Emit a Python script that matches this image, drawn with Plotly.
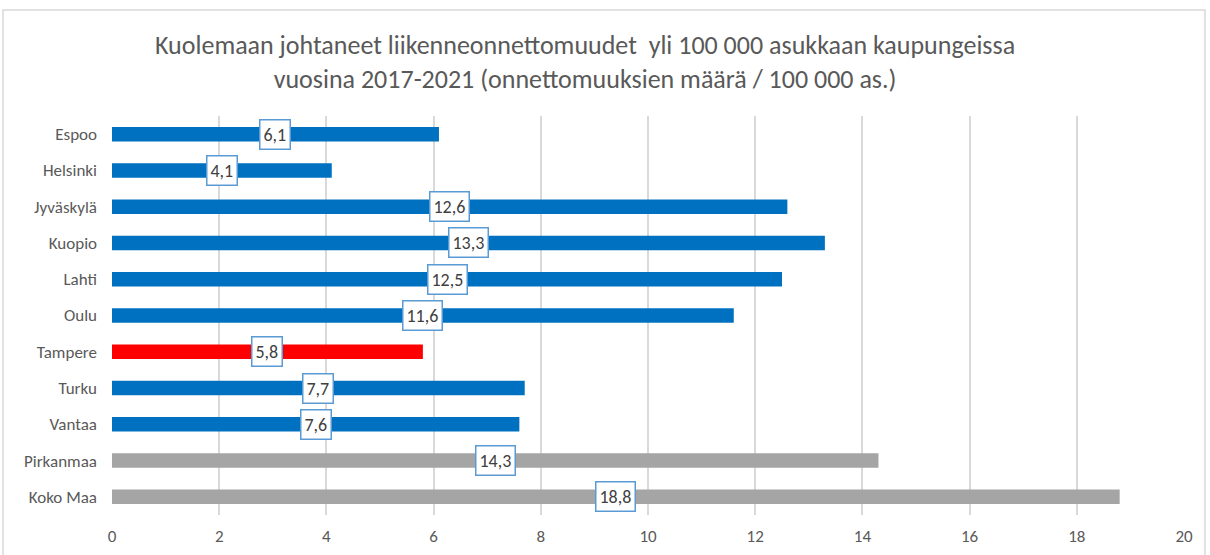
import plotly.graph_objects as go

# Fatal road accidents per 100 000 inhabitants, 2017-2021
categories = ["Espoo", "Helsinki", "Jyväskylä", "Kuopio", "Lahti", "Oulu",
              "Tampere", "Turku", "Vantaa", "Pirkanmaa", "Koko Maa"]
values = [6.1, 4.1, 12.6, 13.3, 12.5, 11.6, 5.8, 7.7, 7.6, 14.3, 18.8]
value_labels = ["6,1", "4,1", "12,6", "13,3", "12,5", "11,6", "5,8", "7,7", "7,6", "14,3", "18,8"]
bar_colors = ["#0070C0"] * 6 + ["#FF0000"] + ["#0070C0"] * 2 + ["#A5A5A5"] * 2
x_ticks = [0, 2, 4, 6, 8, 10, 12, 14, 16, 18, 20]

FONT = "Carlito, Calibri, Lato, sans-serif"
W, H = 1210, 555
ML, MR, MT, MB = 112, 26, 116, 40
pw, ph = W - ML - MR, H - MT - MB

fig = go.Figure(go.Bar(
    x=values, y=categories, orientation="h",
    marker=dict(color=bar_colors, line=dict(width=0)),
    hoverinfo="skip",
))

# value labels in boxes at the middle of each bar
for cat, v, lab in zip(categories, values, value_labels):
    fig.add_annotation(
        x=v / 2, y=cat, text=lab, showarrow=False,
        font=dict(family=FONT, size=18, color="#404040"),
        bgcolor="white", bordercolor="#5B9BD5", borderwidth=1.5, borderpad=3,
    )

# chart title
fig.add_annotation(
    xref="paper", yref="paper",
    x=(585 - ML) / pw, y=(H - MB - 62) / ph,
    text="Kuolemaan johtaneet liikenneonnettomuudet  yli 100 000 asukkaan kaupungeissa<br>"
         "vuosina 2017-2021 (onnettomuuksien määrä / 100 000 as.)",
    showarrow=False, align="center", yanchor="middle",
    font=dict(family=FONT, size=26, color="#595959"),
)

# outer chart frame
fig.add_shape(
    type="rect", xref="paper", yref="paper", layer="below",
    x0=(3 - ML) / pw, x1=(1205 - ML) / pw,
    y0=(H - MB - 570) / ph, y1=(H - MB - 10) / ph,
    line=dict(color="#D9D9D9", width=1.5), fillcolor="rgba(0,0,0,0)",
)

fig.update_layout(
    width=W, height=H,
    margin=dict(l=ML, r=MR, t=MT, b=MB, autoexpand=False),
    paper_bgcolor="white", plot_bgcolor="white",
    bargap=0.6, showlegend=False,
    font=dict(family=FONT, color="#595959"),
    xaxis=dict(
        range=[0, 20], tickvals=x_ticks, ticktext=[str(t) for t in x_ticks],
        showgrid=True, gridcolor="#D9D9D9", gridwidth=1.5,
        zeroline=False, showline=False, ticks="", automargin=False,
        tickfont=dict(family=FONT, size=17, color="#595959"),
        ticklabelstandoff=9, fixedrange=True,
    ),
    yaxis=dict(
        autorange="reversed", showgrid=False, zeroline=False,
        showline=False, ticks="", automargin=False,
        tickfont=dict(family=FONT, size=17, color="#595959"),
        ticklabelstandoff=14, fixedrange=True,
    ),
)

fig.write_html("out.html")
